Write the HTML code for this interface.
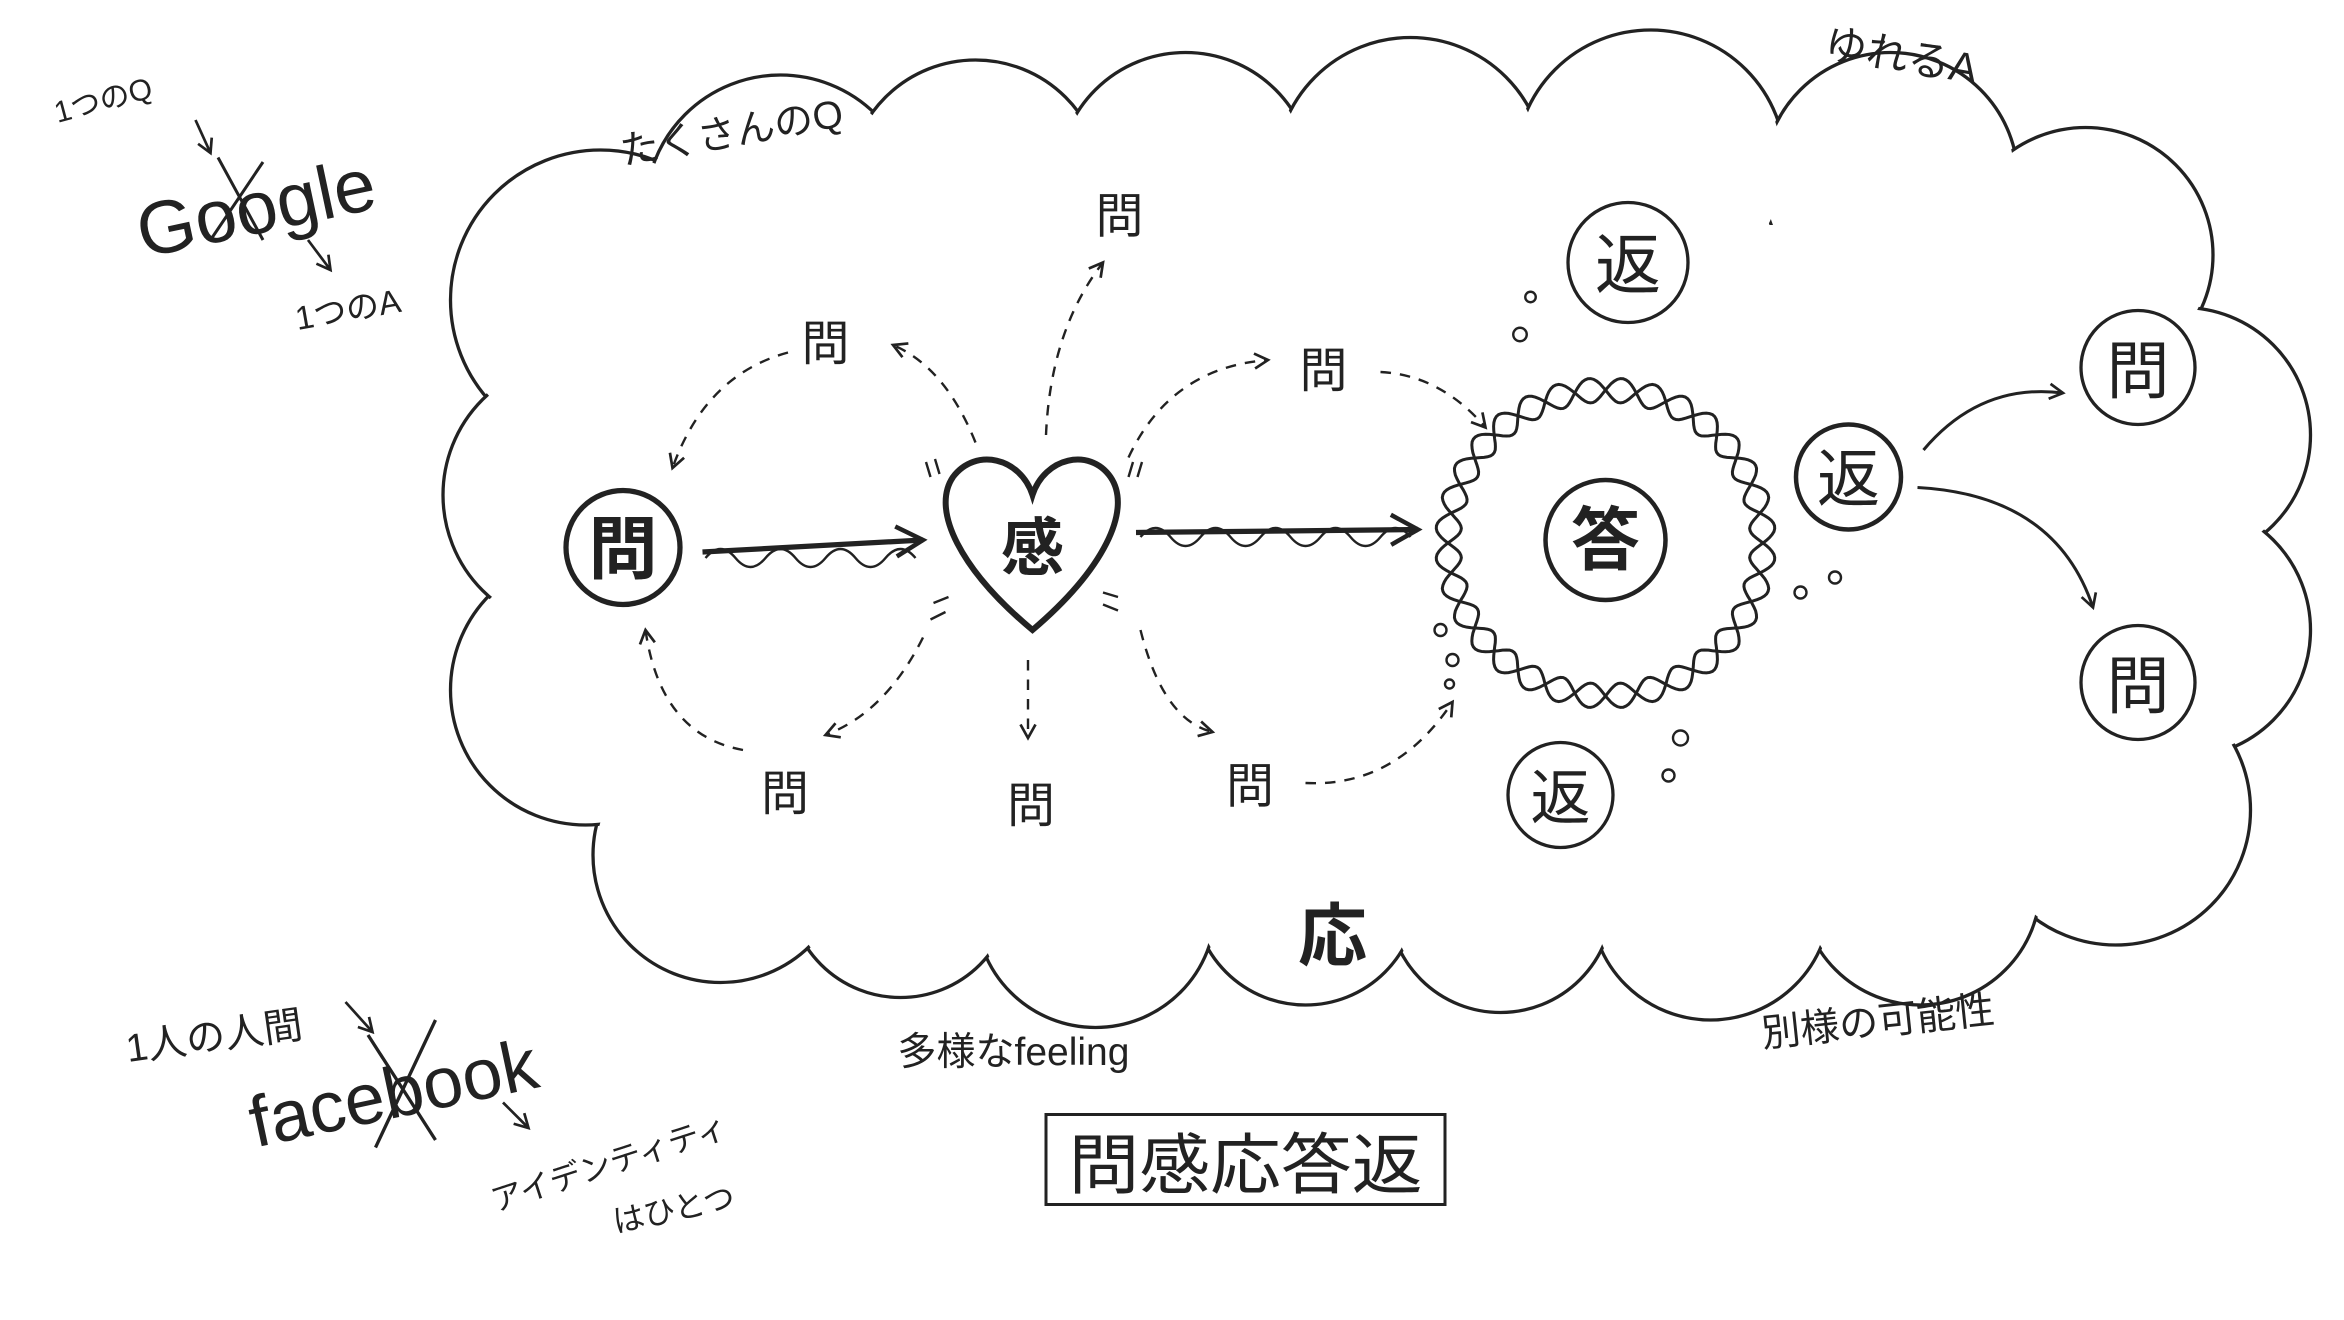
<!DOCTYPE html>
<html><head><meta charset="utf-8"><style>
html,body{margin:0;padding:0;background:#fff}
svg{display:block}
text{font-family:"Liberation Sans","Noto Sans CJK JP",sans-serif;fill:#222}
</style></head><body>
<svg width="2344" height="1320" viewBox="0 0 1562 880" xmlns="http://www.w3.org/2000/svg">
<defs>
<marker id="ah" markerWidth="12" markerHeight="12" refX="10" refY="6" orient="auto" markerUnits="userSpaceOnUse">
<path d="M1,1 L10,6 L1,11" fill="none" stroke="#222" stroke-width="1.8"/></marker>
<marker id="ahb" markerWidth="24" markerHeight="24" refX="20" refY="12" orient="auto" markerUnits="userSpaceOnUse">
<path d="M2,2 L20,12 L2,22" fill="none" stroke="#222" stroke-width="3"/></marker>
</defs>
<g stroke="#222" stroke-width="2.2" fill="#fff">
<circle cx="400" cy="200" r="100"/><circle cx="520" cy="140" r="90"/><circle cx="650" cy="125" r="85"/>
<circle cx="790" cy="120" r="85"/><circle cx="940" cy="115" r="90"/><circle cx="1100" cy="110" r="90"/>
<circle cx="1260" cy="120" r="85"/><circle cx="1390" cy="170" r="85"/><circle cx="1455" cy="290" r="85"/>
<circle cx="1455" cy="420" r="85"/><circle cx="1410" cy="540" r="90"/><circle cx="1280" cy="590" r="80"/>
<circle cx="1140" cy="600" r="80"/><circle cx="1000" cy="600" r="75"/><circle cx="870" cy="595" r="75"/>
<circle cx="730" cy="605" r="80"/><circle cx="600" cy="590" r="75"/><circle cx="480" cy="570" r="85"/>
<circle cx="390" cy="460" r="90"/><circle cx="385" cy="330" r="90"/>
</g>
<g fill="#fff" stroke="none">
<circle cx="400" cy="200" r="98"/><circle cx="520" cy="140" r="88"/><circle cx="650" cy="125" r="83"/>
<circle cx="790" cy="120" r="83"/><circle cx="940" cy="115" r="88"/><circle cx="1100" cy="110" r="88"/>
<circle cx="1260" cy="120" r="83"/><circle cx="1390" cy="170" r="83"/><circle cx="1455" cy="290" r="83"/>
<circle cx="1455" cy="420" r="83"/><circle cx="1410" cy="540" r="88"/><circle cx="1280" cy="590" r="78"/>
<circle cx="1140" cy="600" r="78"/><circle cx="1000" cy="600" r="73"/><circle cx="870" cy="595" r="73"/>
<circle cx="730" cy="605" r="78"/><circle cx="600" cy="590" r="73"/><circle cx="480" cy="570" r="83"/>
<circle cx="390" cy="460" r="88"/><circle cx="385" cy="330" r="88"/>
<rect x="420" y="150" width="1020" height="450"/>
</g>

<text x="38" y="82" font-size="20" transform="rotate(-15 38 82)">1つのQ</text>
<path d="M130,80 L140,102" stroke="#222" stroke-width="1.8" marker-end="url(#ah)"/>
<text x="95" y="172" font-size="50" transform="rotate(-12 95 172)">Google</text>
<path d="M145,105 L175,160 M175,108 L140,160" stroke="#222" stroke-width="2"/>
<path d="M205,160 L220,180" stroke="#222" stroke-width="1.8" marker-end="url(#ah)"/>
<text x="198" y="220" font-size="22" transform="rotate(-10 198 220)">1つのA</text>

<text x="85" y="708" font-size="26" transform="rotate(-8 85 708)">1人の人間</text>
<path d="M230,668 L248,688" stroke="#222" stroke-width="1.8" marker-end="url(#ah)"/>
<text x="170" y="765" font-size="48" transform="rotate(-12 170 765)">facebook</text>
<path d="M245,690 L290,760 M290,680 L250,765" stroke="#222" stroke-width="2.2"/>
<path d="M335,735 L352,752" stroke="#222" stroke-width="1.8" marker-end="url(#ah)"/>
<text x="330" y="808" font-size="21" transform="rotate(-18 330 808)">アイデンティティ</text>
<text x="410" y="822" font-size="21" transform="rotate(-12 410 822)">はひとつ</text>

<text x="415" y="110" font-size="26" transform="rotate(-10 415 110)">たくさんのQ</text>
<text x="1215" y="38" font-size="28" transform="rotate(10 1215 38)">ゆれるA</text>
<text x="598" y="710" font-size="26">多様なfeeling</text>
<text x="1175" y="698" font-size="26" transform="rotate(-6 1175 698)">別様の可能性</text>
<text x="865" y="640" font-size="46" font-weight="bold">応</text>
<rect x="697" y="743" width="266" height="60" fill="none" stroke="#222" stroke-width="2"/>
<text x="830" y="792" font-size="44" text-anchor="middle" textLength="236" lengthAdjust="spacingAndGlyphs">問感応答返</text>

<g stroke="#222" fill="none">
<circle cx="415" cy="365" r="38" stroke-width="3.5"/>
<circle cx="1070" cy="360" r="40" stroke-width="3"/>
<circle cx="1085" cy="175" r="40" stroke-width="2.2"/>
<circle cx="1232" cy="318" r="35" stroke-width="3"/>
<circle cx="1040" cy="530" r="35" stroke-width="2.2"/>
<circle cx="1425" cy="245" r="38" stroke-width="2.2"/>
<circle cx="1425" cy="455" r="38" stroke-width="2.2"/>
<path d="M688,420 C640,380 620,340 635,318 C650,298 680,305 688,330 C696,305 726,298 740,318 C755,340 735,380 688,420 Z" stroke-width="4"/>
<path id="ring1" stroke-width="2"/>
<path id="ring2" stroke-width="2"/>
</g>
<text x="415" y="382" font-size="46" font-weight="bold" text-anchor="middle">問</text>
<text x="688" y="380" font-size="42" font-weight="bold" text-anchor="middle">感</text>
<text x="1070" y="376" font-size="46" font-weight="bold" text-anchor="middle">答</text>
<text x="1085" y="192" font-size="44" text-anchor="middle">返</text>
<text x="1232" y="334" font-size="42" text-anchor="middle">返</text>
<text x="1040" y="546" font-size="40" text-anchor="middle">返</text>
<text x="1425" y="262" font-size="42" text-anchor="middle">問</text>
<text x="1425" y="472" font-size="42" text-anchor="middle">問</text>

<g fill="none" stroke="#222">
<path d="M468,368 L615,360" stroke-width="3.5" marker-end="url(#ahb)"/>
<path d="M470,372 q10,-12 20,0 t20,0 t20,0 t20,0 t20,0 t20,0 t20,0" stroke-width="1.6"/>
<path d="M757,355 L945,353" stroke-width="3.5" marker-end="url(#ahb)"/>
<path d="M760,358 q10,-12 20,0 t20,0 t20,0 t20,0 t20,0 t20,0 t20,0 t20,0 t20,0" stroke-width="1.6"/>
<path d="M1282,300 Q1320,255 1375,262" stroke-width="2" marker-end="url(#ah)"/>
<path d="M1278,325 Q1370,330 1395,405" stroke-width="2" marker-end="url(#ah)"/>
<g stroke-width="1.6" stroke-dasharray="7,6">
<path d="M697,290 Q700,220 735,175" marker-end="url(#ah)"/>
<path d="M650,295 Q630,245 595,230" marker-end="url(#ah)"/>
<path d="M525,235 Q470,250 448,312" marker-end="url(#ah)"/>
<path d="M752,305 Q780,245 845,240" marker-end="url(#ah)"/>
<path d="M920,248 Q960,250 990,285" marker-end="url(#ah)"/>
<path d="M615,425 Q590,475 550,490" marker-end="url(#ah)"/>
<path d="M685,440 L685,492" marker-end="url(#ah)"/>
<path d="M760,420 Q775,480 808,488" marker-end="url(#ah)"/>
<path d="M870,522 Q930,525 968,468" marker-end="url(#ah)"/>
<path d="M495,500 Q440,490 430,420" marker-end="url(#ah)"/>
</g>
</g>
<g font-size="32" text-anchor="middle">
<text x="746" y="155">問</text><text x="550" y="240">問</text><text x="882" y="258">問</text>
<text x="523" y="540">問</text><text x="687" y="548">問</text><text x="833" y="535">問</text>
</g>
<g fill="none" stroke="#222" stroke-width="1.6">
<circle cx="1020" cy="198" r="3.5"/><circle cx="1013" cy="223" r="4.5"/>
<circle cx="960" cy="420" r="4"/><circle cx="968" cy="440" r="4"/><circle cx="966" cy="456" r="3"/>
<circle cx="1120" cy="492" r="5"/><circle cx="1112" cy="517" r="4"/>
<circle cx="1200" cy="395" r="4"/><circle cx="1223" cy="385" r="4"/>
</g>
<g stroke="#222" stroke-width="1.6">
<path d="M620,318 l-3,-10 M626,316 l-3,-10 M752,318 l3,-10 M758,318 l3,-10 M630,408 l-10,5 M632,398 l-10,4 M735,395 l10,3 M735,403 l10,4"/>
</g>
</svg>
<script>
function ring(id,ph){var d="";for(var i=0;i<=360;i++){var t=i*Math.PI/180;var r=100+8*Math.sin(16*t+ph);var rx=r*1.05,ry=r*1.02;var x=1070+rx*Math.cos(t),y=362+ry*Math.sin(t);d+=(i?"L":"M")+x.toFixed(1)+","+y.toFixed(1);}document.getElementById(id).setAttribute("d",d+"Z");}
ring("ring1",0);ring("ring2",Math.PI);
</script>
</body></html>
